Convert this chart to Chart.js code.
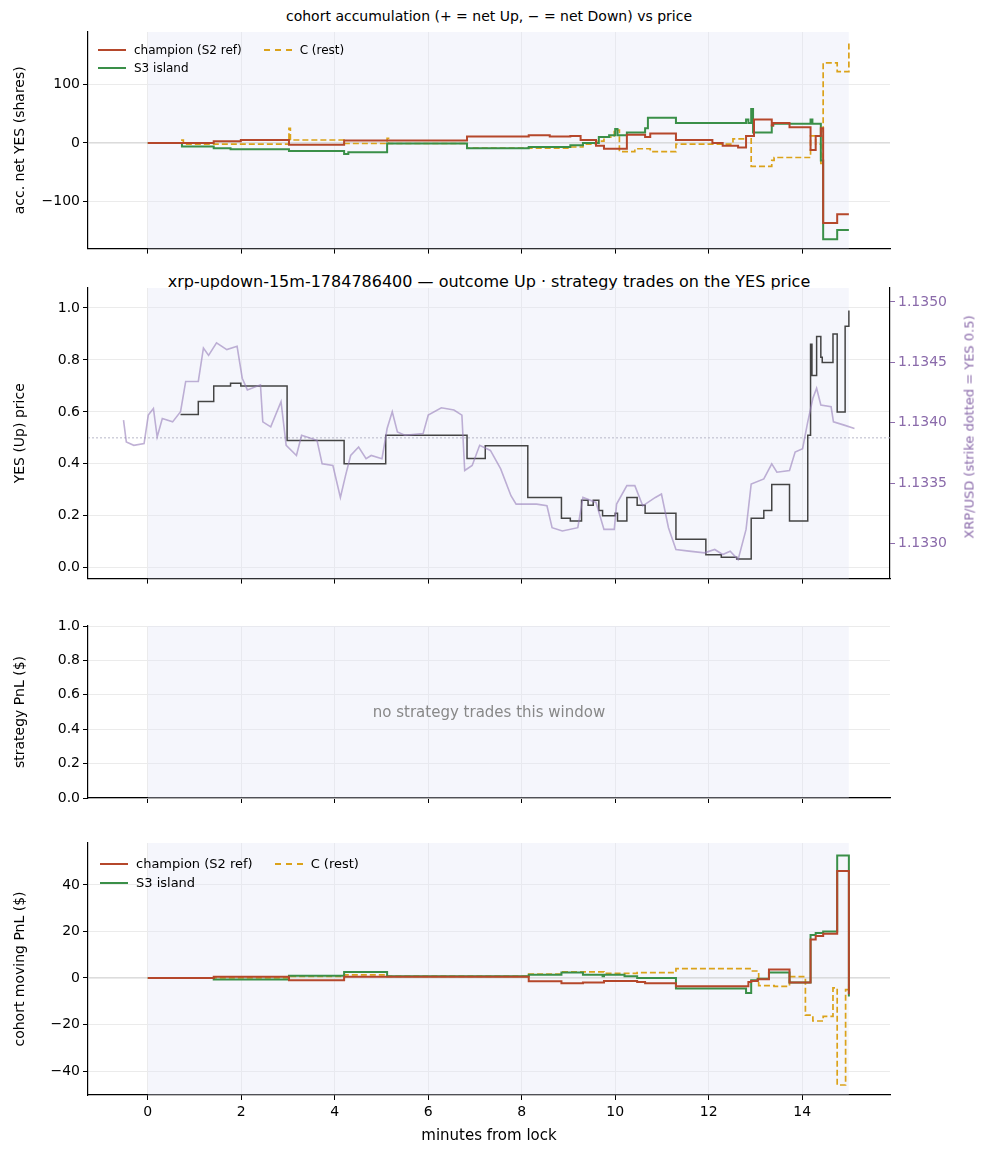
<!DOCTYPE html>
<html>
<head>
<meta charset="utf-8">
<script src="https://cdn.jsdelivr.net/npm/chart.js@4"></script>
<style>
  body { margin: 0; background: #fff; font-family: "DejaVu Sans", sans-serif; }
  #wrap { position: relative; width: 988px; height: 1156px; }
  canvas { position: absolute; left: 0; }
  .txt { position: absolute; white-space: nowrap; color: #000; }
  .leg { position: absolute; font-size: 12px; display: grid; grid-template-columns: auto auto; column-gap: 22px; row-gap: 4px; }
  .leg span { display: inline-flex; align-items: center; }
  .leg i { display: inline-block; width: 28px; height: 0; margin-right: 8px; border-top: 2.5px solid; }
</style>
</head>
<body>
<div id="wrap">
  <div class="txt" style="top:8px;left:0;width:978px;text-align:center;font-size:14px;">cohort accumulation (+ = net Up, − = net Down) vs price</div>
  <canvas id="c1" width="988" height="260" style="top:0"></canvas>
  <div class="leg" style="left:98px;top:43px;font-size:12px;">
    <span><i style="border-color:#b5472b"></i>champion (S2 ref)</span>
    <span><i style="border-color:#dba21a;border-top-style:dashed"></i>C (rest)</span>
    <span><i style="border-color:#3a8f48"></i>S3 island</span>
  </div>
  <div class="txt" style="top:272px;left:0;width:978px;text-align:center;font-size:16px;">xrp-updown-15m-1784786400 — outcome Up · strategy trades on the YES price</div>
  <canvas id="c2" width="988" height="330" style="top:260px"></canvas>
  <div class="txt" style="top:427px;left:969px;font-size:13px;color:#8a6aaa;transform:translate(-50%,-50%) rotate(-90deg);">XRP/USD (strike dotted = YES 0.5)</div>
  <canvas id="c3" width="988" height="220" style="top:590px"></canvas>
  <div class="txt" style="top:703px;left:88px;width:802px;text-align:center;font-size:15px;color:#888;">no strategy trades this window</div>
  <canvas id="c4" width="988" height="346" style="top:810px"></canvas>
  <div class="leg" style="left:100px;top:856px;font-size:13px;">
    <span><i style="border-color:#b5472b"></i>champion (S2 ref)</span>
    <span><i style="border-color:#dba21a;border-top-style:dashed"></i>C (rest)</span>
    <span><i style="border-color:#3a8f48"></i>S3 island</span>
  </div>
  <div class="txt" style="top:1126px;left:88px;width:802px;text-align:center;font-size:15px;">minutes from lock</div>
</div>
<script>
// x range / ticks (minutes from lock)
const xTicks = [0, 2, 4, 6, 8, 10, 12, 14];

// panel 1: accumulated net YES shares
const accChampX = [0, 1.41, 1.99, 3.02, 4.20, 6.83, 8.15, 8.60, 9.04, 9.26, 9.59, 9.76, 10.0, 10.25, 10.64, 10.75, 11.30, 12.08, 12.30, 12.63, 12.80, 12.97, 13.35, 13.38, 13.73, 14.18, 14.29, 14.40, 14.45, 14.75, 15.0];
const accChampY = [0, 3, 5, -3, 4, 11, 13, 11, 12, 5, -5, -10, -10, 14, 10, 16, 5, 0, -5, -8, 12, 40, 30, 34, 27, -12, 12, 25, -137, -122, -122];
const accS3X = [0, 0.73, 1.41, 1.77, 3.02, 4.20, 4.29, 5.12, 6.83, 8.15, 9.04, 9.31, 9.65, 9.87, 10.0, 10.05, 10.25, 10.64, 10.70, 11.30, 12.80, 12.85, 12.91, 12.95, 13.35, 13.38, 14.18, 14.22, 14.40, 14.45, 14.75, 15.0];
const accS3Y = [0, -6, -9, -11, -14, -19, -16, -1, -9, -7, -4, 0, 10, 13, 24, 13, 18, 25, 43, 34, 40, 34, 58, 18, 30, 33, 40, 33, -30, -165, -149, -149];
const accCX = [0, 0.73, 0.76, 3.02, 3.05, 4.20, 5.12, 5.15, 6.83, 9.04, 9.31, 9.59, 9.76, 9.98, 10.09, 10.42, 10.75, 11.30, 12.52, 12.80, 12.91, 13.35, 13.40, 14.18, 14.29, 14.40, 14.45, 14.75, 15.0];
const accCY = [0, 5, -2, 25, 5, -1, 8, -1, -9, -7, -2, 3, 10, 22, -15, -10, -15, -2, 7, 12, -40, -30, -25, 12, -2, -35, 137, 122, 175];

// panel 2: YES price and XRP/USD
const yesX = [0.70, 1.08, 1.41, 1.77, 1.99, 2.98, 4.20, 5.09, 6.83, 7.22, 8.13, 8.85, 9.04, 9.28, 9.42, 9.53, 9.65, 9.73, 10.0, 10.05, 10.25, 10.47, 10.64, 11.30, 11.94, 12.27, 12.60, 12.91, 13.18, 13.35, 13.73, 14.12, 14.18, 14.21, 14.31, 14.40, 14.43, 14.66, 14.75, 14.92, 15.0];
const yesY = [0.59, 0.64, 0.70, 0.71, 0.70, 0.49, 0.40, 0.51, 0.42, 0.47, 0.27, 0.19, 0.18, 0.26, 0.24, 0.26, 0.22, 0.20, 0.21, 0.18, 0.27, 0.24, 0.21, 0.11, 0.05, 0.04, 0.033, 0.19, 0.22, 0.32, 0.18, 0.51, 0.86, 0.74, 0.89, 0.81, 0.79, 0.90, 0.60, 0.93, 0.99];
const xrpX = [-0.52, -0.46, -0.30, -0.08, 0.01, 0.12, 0.20, 0.31, 0.53, 0.70, 0.81, 1.08, 1.19, 1.30, 1.47, 1.69, 1.91, 2.02, 2.13, 2.41, 2.46, 2.63, 2.85, 2.96, 3.18, 3.29, 3.62, 3.73, 3.96, 4.12, 4.23, 4.34, 4.51, 4.67, 4.78, 5.01, 5.12, 5.23, 5.34, 5.50, 5.89, 6.00, 6.28, 6.55, 6.72, 6.78, 6.94, 7.10, 7.33, 7.55, 7.77, 7.88, 8.32, 8.54, 8.65, 8.87, 9.20, 9.31, 9.59, 9.76, 9.98, 10.03, 10.25, 10.42, 10.59, 10.86, 10.99, 11.14, 11.30, 11.58, 11.91, 12.13, 12.30, 12.46, 12.63, 12.80, 12.91, 13.18, 13.35, 13.46, 13.73, 13.85, 14.01, 14.12, 14.23, 14.31, 14.40, 14.62, 14.67, 14.90, 15.12];
const xrpY = [1.134022, 1.133842, 1.133814, 1.133828, 1.134064, 1.134119, 1.133883, 1.134036, 1.134008, 1.134092, 1.134342, 1.134342, 1.134619, 1.134558, 1.134661, 1.134606, 1.134633, 1.134369, 1.134272, 1.134314, 1.134008, 1.133967, 1.134175, 1.133814, 1.133730, 1.133897, 1.133856, 1.133661, 1.133647, 1.133383, 1.133564, 1.133730, 1.133800, 1.133703, 1.133730, 1.133703, 1.133953, 1.134092, 1.133925, 1.133897, 1.133911, 1.134064, 1.134125, 1.134106, 1.134064, 1.133606, 1.133647, 1.133814, 1.133772, 1.133619, 1.133397, 1.133328, 1.133328, 1.133314, 1.133133, 1.133106, 1.133133, 1.133383, 1.133342, 1.133119, 1.133119, 1.133328, 1.133481, 1.133481, 1.133314, 1.133383, 1.133411, 1.133133, 1.132953, 1.132939, 1.132925, 1.132953, 1.132911, 1.132939, 1.132869, 1.133119, 1.133494, 1.133536, 1.133661, 1.133592, 1.133606, 1.133758, 1.133786, 1.134008, 1.134203, 1.134286, 1.134147, 1.134133, 1.134008, 1.133981, 1.133953];

// panel 4: cohort moving PnL ($)
const pnlChampX = [0, 1.41, 3.02, 4.20, 8.15, 8.85, 9.31, 9.76, 10.47, 10.64, 11.30, 12.85, 12.91, 13.05, 13.29, 13.73, 14.18, 14.29, 14.45, 14.75, 15.0];
const pnlChampY = [0, 0.5, -1, 0.5, -1.4, -2.3, -1.9, -1.3, -1.7, -2.3, -3.6, -1.7, -1.3, -0.6, 3.6, -2, 16.5, 18, 19, 46, -7];
const pnlS3X = [0, 1.41, 3.02, 4.20, 5.12, 8.15, 8.85, 9.31, 9.73, 9.76, 10.20, 10.47, 11.30, 12.80, 12.91, 13.05, 13.29, 13.73, 14.18, 14.29, 14.45, 14.75, 15.0];
const pnlS3Y = [0, -0.7, 1, 2.6, 0.7, 1.4, 2.3, 1.4, 0.7, 1.4, 0.7, 0, -4.5, -6.5, -1, -0.3, 2.3, -2, 18.5, 19.3, 20, 52.6, -8];
const pnlCX = [0, 3.02, 4.20, 5.12, 8.15, 8.85, 9.76, 10.47, 11.30, 12.91, 13.07, 13.40, 13.73, 14.07, 14.23, 14.45, 14.66, 14.75, 14.93, 15.0];
const pnlCY = [0, 0.7, 1.3, 0.7, 1.7, 2.6, 2, 2.3, 4, 3, -3.3, -3.6, 0.6, -16, -18.5, -16.5, -4.3, -46, -5, 3];

const RED = '#b5472b', GREEN = '#3a8f48', GOLD = '#dba21a', PURPLE = '#8a6aaa';
const GRID = '#ebebeb';
Chart.defaults.font.family = '"DejaVu Sans", sans-serif';
Chart.defaults.color = '#000';

const zip = (xs, ys) => xs.map((x, i) => ({ x, y: ys[i] }));

// shaded window 0..15 plus optional horizontal reference line
const windowShade = {
    id: 'windowShade',
    beforeDatasetsDraw(chart, args, opts) {
        const { ctx, chartArea, scales } = chart;
        const x0 = scales.x.getPixelForValue(0), x1 = scales.x.getPixelForValue(15);
        ctx.save();
        ctx.fillStyle = 'rgba(225,230,245,0.35)';
        ctx.fillRect(x0, chartArea.top, x1 - x0, chartArea.bottom - chartArea.top);
        if (opts.hline !== undefined) {
            const y = scales.y.getPixelForValue(opts.hline);
            ctx.strokeStyle = opts.hcolor || '#d0d0d0';
            ctx.lineWidth = 1;
            ctx.setLineDash(opts.dash || []);
            ctx.beginPath();
            ctx.moveTo(chartArea.left, y);
            ctx.lineTo(chartArea.right, y);
            ctx.stroke();
        }
        ctx.restore();
    }
};

function xScale(showLabels) {
    return {
        type: 'linear', min: -1.28, max: 15.88,
        afterBuildTicks: s => { s.ticks = xTicks.map(v => ({ value: v })); },
        afterFit: s => { s.height = showLabels ? 25 : 0; },
        grid: { color: GRID, tickLength: 5, tickColor: '#000' },
        border: { color: '#000', width: 1.2 },
        ticks: { display: showLabels, font: { size: 14 }, padding: 4 }
    };
}

function yScale(min, max, step, title, fmt) {
    return {
        min, max,
        afterBuildTicks: s => {
            const t = [];
            for (let v = Math.ceil(min / step) * step; v <= max + 1e-9; v += step) t.push({ value: +v.toFixed(6) });
            s.ticks = t;
        },
        afterFit: s => { s.width = 88; },
        grid: { color: GRID, tickLength: 5, tickColor: '#000' },
        border: { color: '#000', width: 1.2 },
        ticks: { font: { size: 14 }, callback: fmt || (v => String(v).replace('-', '−')) },
        title: { display: true, text: title, font: { size: 14 }, padding: { top: 12, bottom: 0 } }
    };
}

function stepLine(label, xs, ys, color, dashed) {
    return {
        label, data: zip(xs, ys), borderColor: color, borderWidth: dashed ? 1.7 : 2,
        borderDash: dashed ? [6, 3] : [], stepped: 'before', pointRadius: 0, fill: false
    };
}

const base = (padTop, padBottom, padRight) => ({
    responsive: false, animation: false, devicePixelRatio: 1,
    layout: { padding: { top: padTop, bottom: padBottom, left: 0, right: padRight } },
    plugins: { legend: { display: false }, tooltip: { enabled: false } }
});

// panel 1
const c1opts = base(32, 9, 98);
c1opts.plugins.windowShade = { hline: 0 };
new Chart(document.getElementById('c1'), {
    type: 'line',
    data: { datasets: [
        stepLine('champion (S2 ref)', accChampX, accChampY, RED, false),
        stepLine('S3 island', accS3X, accS3Y, GREEN, false),
        stepLine('C (rest)', accCX, accCY, GOLD, true)
    ] },
    options: Object.assign(c1opts, {
        scales: { x: xScale(false), y: yScale(-181, 190, 100, 'acc. net YES (shares)') }
    }),
    plugins: [windowShade]
});

// panel 2
const c2opts = base(28, 10, 0);
c2opts.plugins.windowShade = { hline: 0.5, hcolor: '#b8b8c8', dash: [2, 2] };
new Chart(document.getElementById('c2'), {
    type: 'line',
    data: { datasets: [
        { label: 'XRP/USD', data: zip(xrpX, xrpY), yAxisID: 'y1', borderColor: 'rgba(150,125,185,0.6)', borderWidth: 1.6, pointRadius: 0, tension: 0 },
        { label: 'YES', data: zip(yesX, yesY), yAxisID: 'y', borderColor: '#444', borderWidth: 1.5, stepped: 'before', pointRadius: 0 }
    ] },
    options: Object.assign(c2opts, {
        scales: {
            x: xScale(false),
            y: yScale(-0.042, 1.077, 0.2, 'YES (Up) price', v => v.toFixed(1)),
            y1: {
                position: 'right', min: 1.132712, max: 1.135115,
                afterBuildTicks: s => { s.ticks = [1.1330, 1.1335, 1.1340, 1.1345, 1.1350].map(v => ({ value: v })); },
                afterFit: s => { s.width = 98; },
                grid: { drawOnChartArea: false, tickLength: 5, tickColor: PURPLE },
                border: { color: '#000', width: 1.2 },
                ticks: { color: PURPLE, font: { size: 14 }, callback: v => v.toFixed(4) }
            }
        }
    }),
    plugins: [windowShade]
});

// panel 3 (empty strategy PnL)
const c3opts = base(36, 12, 98);
c3opts.plugins.windowShade = {};
new Chart(document.getElementById('c3'), {
    type: 'line',
    data: { datasets: [] },
    options: Object.assign(c3opts, {
        scales: { x: xScale(false), y: yScale(0, 1, 0.2, 'strategy PnL ($)', v => v.toFixed(1)) }
    }),
    plugins: [windowShade]
});

// panel 4
const c4opts = base(33, 36, 98);
c4opts.plugins.windowShade = { hline: 0 };
new Chart(document.getElementById('c4'), {
    type: 'line',
    data: { datasets: [
        stepLine('champion (S2 ref)', pnlChampX, pnlChampY, RED, false),
        stepLine('S3 island', pnlS3X, pnlS3Y, GREEN, false),
        stepLine('C (rest)', pnlCX, pnlCY, GOLD, true)
    ] },
    options: Object.assign(c4opts, {
        scales: { x: xScale(true), y: yScale(-50.3, 58, 20, 'cohort moving PnL ($)') }
    }),
    plugins: [windowShade]
});
</script>
</body>
</html>
